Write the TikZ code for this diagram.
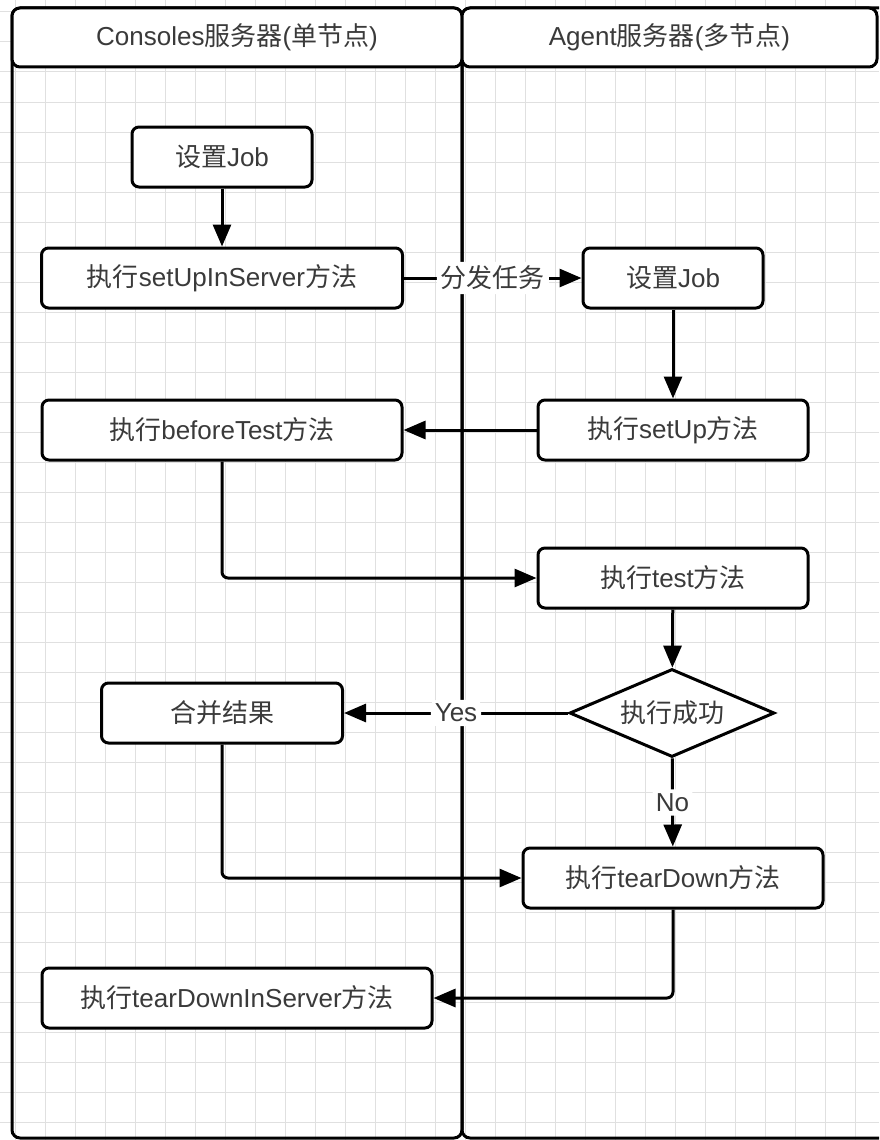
\documentclass[tikz,border=0pt]{standalone}
\usepackage{fontspec}
\setmainfont{Liberation Sans}
\newfontfamily\cjk{Noto Sans CJK SC}
\usetikzlibrary{arrows.meta,shapes.geometric}
\newcommand\zh[1]{{\cjk #1}}
\definecolor{gridgray}{HTML}{E0E0E0}
\definecolor{inkgray}{HTML}{3A3A3A}

\tikzset{
  gridline/.style={draw=gridgray, line width=1pt},
  lane/.style={draw=black, line width=3pt, rounded corners=8pt},
  header/.style={draw=black, line width=3pt, fill=white, rounded corners=8pt,
    minimum height=59pt, inner sep=0pt, text=inkgray,
    font=\fontsize{26}{30}\selectfont},
  stepbox/.style={draw=black, line width=3pt, fill=white, rounded corners=7pt,
    minimum height=60pt, inner sep=0pt, text=inkgray,
    font=\fontsize{26}{30}\selectfont},
  decision/.style={draw=black, line width=3pt, fill=white, diamond, aspect=2.33,
    minimum width=205pt, minimum height=88pt, inner sep=0pt, text=inkgray,
    font=\fontsize{26}{30}\selectfont},
  flow/.style={draw=black, line width=3pt, rounded corners=6pt,
    -{Triangle[length=22pt,width=18pt]}},
  lbl/.style={fill=white, inner sep=4pt, text=inkgray,
    font=\fontsize{26}{30}\selectfont},
}

\begin{document}
\begin{tikzpicture}[x=1pt, y=-1pt]
  \useasboundingbox (0,0) rectangle (879,1140);
  \clip (0,0) rectangle (879,1140);
  \fill[white] (0,0) rectangle (879,1140);

  % background grid
  \foreach \gx in {15,45,...,875} \draw[gridline] (\gx,0) -- (\gx,1140);
  \foreach \gy in {12,42,...,1122} \draw[gridline] (0,\gy) -- (879,\gy);

  % swimlanes
  \draw[lane] (12,8) rectangle (462,1138);
  \draw[lane] (462,8) rectangle (895,1138);
  \node[header, minimum width=450pt] (hcon) at (237,37.5)
    {Consoles\zh{服务器}(\zh{单节点})};
  \node[header, minimum width=415pt] (hagt) at (669.5,37.5)
    {Agent\zh{服务器}(\zh{多节点})};

  % steps on the console server
  \node[stepbox, minimum width=180pt] (jobc)   at (222,157)  {\zh{设置}Job};
  \node[stepbox, minimum width=361pt] (srvup)  at (222,278)  {\zh{执行}setUpInServer\zh{方法}};
  \node[stepbox, minimum width=360pt] (before) at (222,430)  {\zh{执行}beforeTest\zh{方法}};
  \node[stepbox, minimum width=241pt] (merge)  at (222,713)  {\zh{合并结果}};
  \node[stepbox, minimum width=390pt] (srvtd)  at (237,998)  {\zh{执行}tearDownInServer\zh{方法}};

  % steps on the agent servers
  \node[stepbox, minimum width=180pt] (joba)   at (673,278)  {\zh{设置}Job};
  \node[stepbox, minimum width=270pt] (setup)  at (673,430)  {\zh{执行}setUp\zh{方法}};
  \node[stepbox, minimum width=270pt] (test)   at (673,578)  {\zh{执行}test\zh{方法}};
  \node[decision]                     (ok)     at (672,713)  {\zh{执行成功}};
  \node[stepbox, minimum width=300pt] (td)     at (673,878)  {\zh{执行}tearDown\zh{方法}};

  % connectors
  \draw[flow] (jobc) -- (srvup);
  \draw[flow] (srvup) -- node[lbl] {\zh{分发任务}} (joba);
  \draw[flow] (joba) -- (setup);
  \draw[flow] (setup) -- (before);
  \draw[flow] (before.south) |- (test.west);
  \draw[flow] (test) -- (ok);
  \draw[flow] (ok) -- node[lbl] {Yes} (merge);
  \draw[flow] (ok) -- node[lbl] {No} (td);
  \draw[flow] (merge.south) |- (td.west);
  \draw[flow] (td.south) |- (srvtd.east);
\end{tikzpicture}
\end{document}
